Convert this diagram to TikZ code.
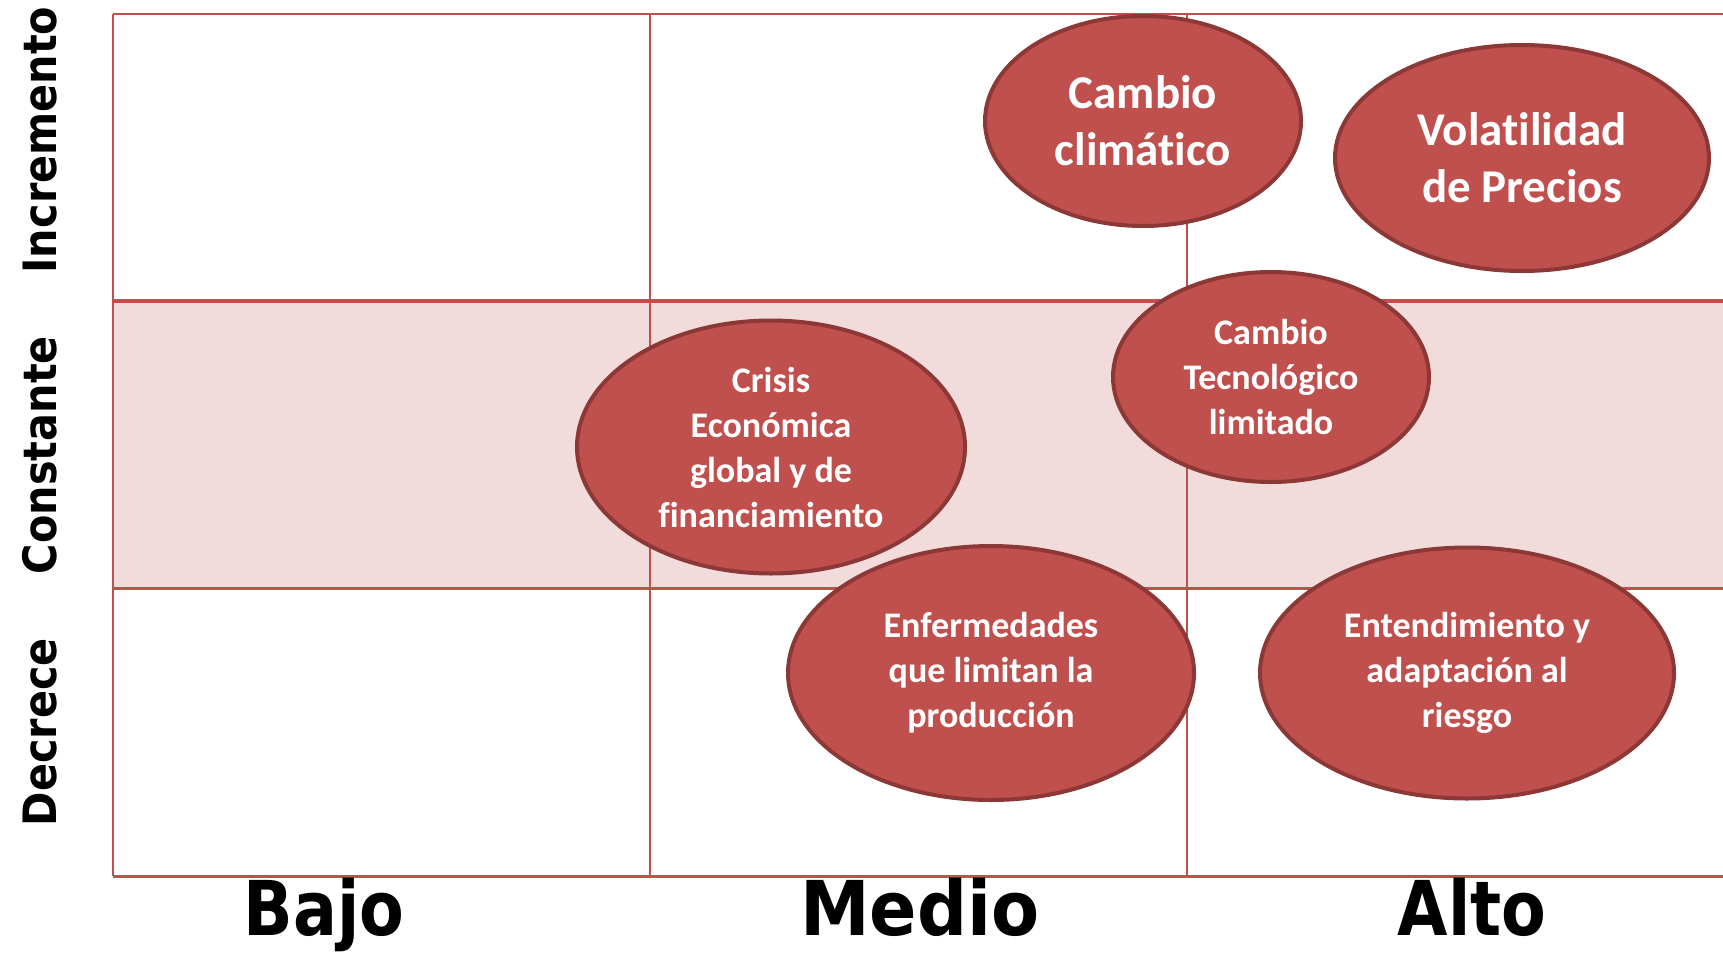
\documentclass[tikz,border=0pt]{standalone}
\usepackage{fontspec}
\setmainfont{Carlito}[RawFeature={-liga}]
\newfontfamily\labfont{DejaVu Sans}
\usetikzlibrary{shapes.geometric}
\definecolor{redfill}{HTML}{C0504D}
\definecolor{redline}{HTML}{8C3836}
\definecolor{pinkband}{HTML}{F2DCDB}
\begin{document}
\begin{tikzpicture}[x=1pt,y=-1pt,
  risk/.style={ellipse, fill=redfill, draw=redline, line width=4pt, inner sep=0pt, text=white, align=center},
  bigtxt/.style={font=\fontsize{47}{57}\selectfont\bfseries},
  smalltxt/.style={font=\fontsize{36}{45}\selectfont\bfseries},
  gridline/.style={draw=redfill, line width=2pt},
  ylab/.style={rotate=90, inner sep=0pt, font=\labfont\bfseries\fontsize{46}{50}\selectfont},
  xlab/.style={anchor=base, inner sep=0pt, font=\labfont\bfseries\fontsize{70}{80}\selectfont}]
\useasboundingbox (0,0) rectangle (1723,953);
\fill[white] (0,0) rectangle (1723,953);
% band
\fill[pinkband] (113,301) rectangle (1723,588);
% grid
\coordinate (tl) at (113,14);
\coordinate (tr) at (1723,14);
\coordinate (bl) at (113,876);
\coordinate (br) at (1723,876);
\coordinate (m1l) at (113,301);
\coordinate (m1r) at (1723,301);
\coordinate (m2l) at (113,588);
\coordinate (m2r) at (1723,588);
\coordinate (v1t) at (650,14);
\coordinate (v1b) at (650,876);
\coordinate (v2t) at (1187,14);
\coordinate (v2b) at (1187,876);
\draw[gridline] (tl) -- (tr);
\draw[gridline] (tl) -- (bl);
\draw[gridline] (v1t) -- (v1b);
\draw[gridline] (v2t) -- (v2b);
\draw[gridline, line width=4pt] (m1l) -- (m1r);
\draw[gridline, line width=3pt] (m2l) -- (m2r);
\draw[gridline, line width=3pt] (bl) -- (br);
% ellipses
\node[risk, bigtxt, minimum width=316pt, minimum height=210pt] (cc) at (1143,121) {Cambio\\clim\'atico};
\node[risk, bigtxt, minimum width=374pt, minimum height=226pt] (vp) at (1522,158) {Volatilidad\\de Precios};
\node[risk, smalltxt, minimum width=316pt, minimum height=210pt] (ct) at (1271,377) {Cambio\\Tecnol\'ogico\\limitado};
\node[risk, smalltxt, minimum width=388pt, minimum height=253pt] (ce) at (771,447) {Crisis\\Econ\'omica\\global y de\\financiamiento};
\node[risk, smalltxt, minimum width=406pt, minimum height=254pt] (en) at (991,673) {Enfermedades\\que limitan la\\producci\'on};
\node[risk, smalltxt, minimum width=414pt, minimum height=251pt] (et) at (1467,673) {Entendimiento y\\adaptaci\'on al\\riesgo};
% axis labels
\node[ylab] (inc) at (40,140) {\scalebox{0.9}[1]{Incremento}};
\node[ylab] (con) at (40,455) {\scalebox{0.9}[1]{Constante}};
\node[ylab] (dec) at (40,732) {\scalebox{0.9}[1]{Decrece}};
\node[xlab] (bajo) at (324,935) {\scalebox{0.93}[1.08]{Bajo}};
\node[xlab] (medio) at (920,935) {\scalebox{1}[1.08]{Medio}};
\node[xlab] (alto) at (1472,935) {\scalebox{0.93}[1.08]{Alto}};
\end{tikzpicture}
\end{document}
